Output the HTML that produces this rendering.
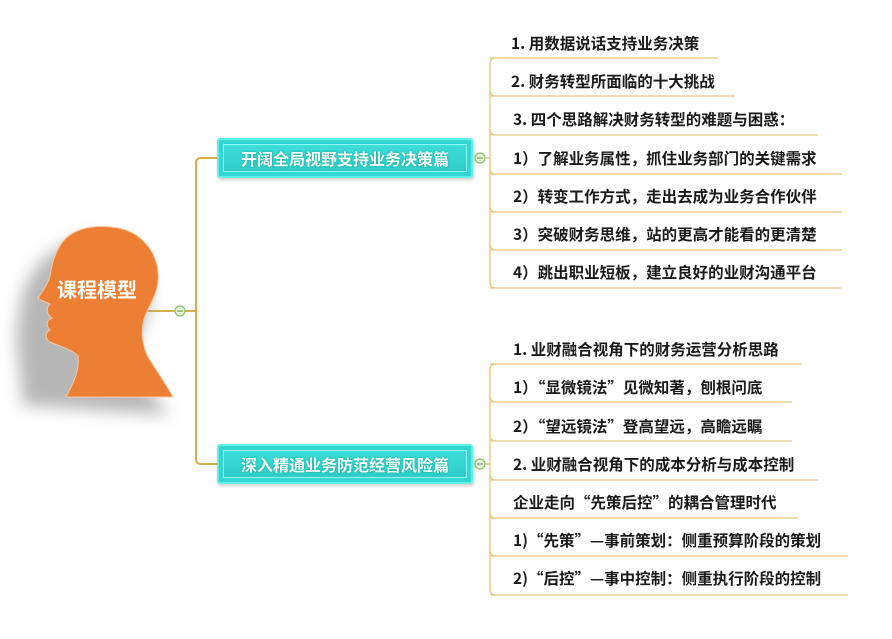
<!DOCTYPE html>
<html><head><meta charset="utf-8"><style>
body{margin:0;background:#fff;width:892px;height:639px;position:relative;overflow:hidden;font-family:"Liberation Sans","Noto Sans CJK SC",sans-serif}
.t{position:absolute;font-size:15.5px;font-weight:bold;color:#1a1a1a;white-space:nowrap;line-height:16px;font-family:"Noto Sans CJK SC",sans-serif}
.box{position:absolute;left:217px;width:256px;height:40px;box-sizing:border-box;background:linear-gradient(#3fe0dc,#2cc9c4);border:2px solid #5ff0ea;border-radius:3px;box-shadow:inset 0 0 0 4px #34d6d1,inset 0 0 0 5px #8ff6f2, 1px 2px 3px rgba(0,0,0,.2);color:#fff;font-weight:bold;font-size:16px;text-align:center;line-height:36px;text-shadow:0 0 2px #0a8;font-family:"Noto Sans CJK SC",sans-serif}
</style></head><body>
<svg width="892" height="639" style="position:absolute;left:0;top:0">
<defs><filter id="sh" x="-30%" y="-30%" width="160%" height="160%"><feGaussianBlur stdDeviation="8"/></filter></defs>
<g fill="none" stroke="#d9ad4c" stroke-width="2">
<path d="M143 311 H196"/>
<path d="M217 158 H201 Q196 158 196 163 V459 Q196 464 201 464 H217"/>
</g>
<g fill="none" stroke="#e6c680" stroke-width="1.3">
<path d="M485 158 H490"/>
<path d="M496 58 Q490 58 490 64 V282 Q490 288 496 288"/>
<path d="M490 58 H718 M490 96 H735 M490 135 H818 M490 174 H842 M490 212 H842 M490 250 H842 M490 288 H842"/>
<path d="M490 90 Q490 96 496 96 M490 129 Q490 135 496 135 M490 168 Q490 174 496 174 M490 206 Q490 212 496 212 M490 244 Q490 250 496 250"/>
<path d="M485 464 H490"/>
<path d="M496 364 Q490 364 490 370 V589 Q490 595 496 595"/>
<path d="M490 364 H802 M490 402 H792 M490 441 H792 M490 480 H818 M490 518 H798 M490 556 H848 M490 595 H848"/>
<path d="M490 396 Q490 402 496 402 M490 435 Q490 441 496 441 M490 474 Q490 480 496 480 M490 512 Q490 518 496 518 M490 550 Q490 556 496 556"/>
</g>
<path d="M30 395 C30 360 20 330 28 300 C30 270 50 240 90 228 C130 225 160 250 158 295 C150 320 135 340 145 365 C155 380 170 392 175 405 Z" fill="#999" opacity=".7" filter="url(#sh)" transform="translate(-8,10)"/>
<path d="M66 397 C72 385 80 372 78 356 C70 348 58 346 50 342 C44 338 46 332 50 330 C46 326 46 320 52 318 C46 314 46 308 50 304 C46 302 40 300 38 298 C42 292 48 284 50 276 C52 262 56 248 66 238 C80 226 100 225 118 228 C140 232 156 250 158 272 C160 290 150 304 145 316 C140 330 142 345 148 357 C156 370 166 384 173 397 Z" fill="#ec7f34" stroke="#f8c9a0" stroke-width="1"/>
<text x="97" y="297" text-anchor="middle" fill="#fff" font-weight="bold" font-size="20" font-family="Noto Sans CJK SC,sans-serif">课程模型</text>
<g fill="#e4f3d8" stroke="#8ac06a" stroke-width="1.2">
<circle cx="180" cy="311" r="5"/><circle cx="480" cy="158" r="5"/><circle cx="480" cy="464" r="5"/>
</g>
<g stroke="#7aa860" stroke-width="1.3"><path d="M177 311H183M477 158H483M477 464H483"/></g>
</svg>
<div class="box" style="top:138px">开阔全局视野支持业务决策篇</div>
<div class="box" style="top:444px">深入精通业务防范经营风险篇</div>
<div class="t" style="left:511px;top:35px">1. 用数据说话支持业务决策</div>
<div class="t" style="left:511px;top:73px">2. 财务转型所面临的十大挑战</div>
<div class="t" style="left:513px;top:111px">3. 四个思路解决财务转型的难题与困惑：</div>
<div class="t" style="left:513px;top:150px">1）了解业务属性，抓住业务部门的关键需求</div>
<div class="t" style="left:513px;top:188px">2）转变工作方式，走出去成为业务合作伙伴</div>
<div class="t" style="left:513px;top:226px">3）突破财务思维，站的更高才能看的更清楚</div>
<div class="t" style="left:513px;top:264px">4）跳出职业短板，建立良好的业财沟通平台</div>
<div class="t" style="left:513px;top:341px">1. 业财融合视角下的财务运营分析思路</div>
<div class="t" style="left:513px;top:379px">1）“显微镜法”见微知著，刨根问底</div>
<div class="t" style="left:513px;top:418px">2）“望远镜法”登高望远，高瞻远瞩</div>
<div class="t" style="left:513px;top:456px">2. 业财融合视角下的成本分析与成本控制</div>
<div class="t" style="left:513px;top:494px">企业走向“先策后控”的耦合管理时代</div>
<div class="t" style="left:513px;top:532px">1)“先策”—事前策划：侧重预算阶段的策划</div>
<div class="t" style="left:513px;top:570px">2)“后控”—事中控制：侧重执行阶段的控制</div>
</body></html>
